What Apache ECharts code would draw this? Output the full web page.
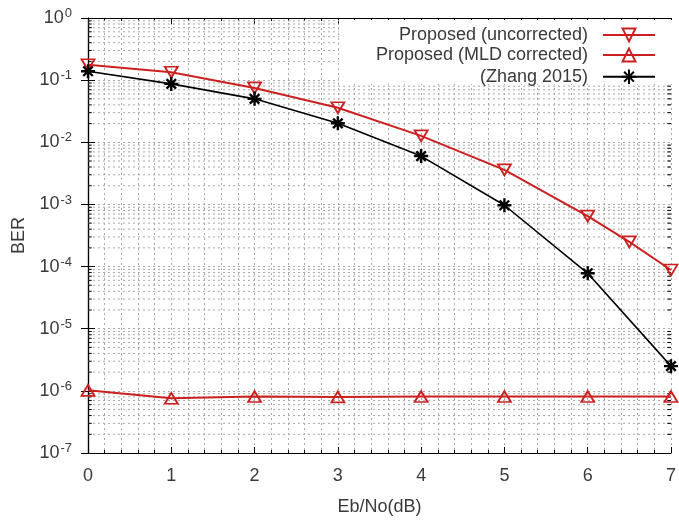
<!DOCTYPE html>
<html>
<head>
<meta charset="utf-8">
<script src="https://cdn.jsdelivr.net/npm/echarts@6/dist/echarts.min.js"></script>
<style>html,body{margin:0;padding:0;background:#fff}#c{width:679px;height:521px}</style>
</head>
<body>
<div id="c"></div>
<script>
// ---- data ----
const seriesNames = ['Proposed (uncorrected)', 'Proposed (MLD corrected)', '(Zhang 2015)'];
const xUncorr = [0, 1, 2, 3, 4, 5, 6, 6.5, 7];
const berUncorr = [0.177, 0.134, 0.075, 0.036, 0.0127, 0.0036, 6.5e-4, 2.5e-4, 8.8e-5];
const xMld = [0, 1, 2, 3, 4, 5, 6, 7];
const berMld = [1.02e-6, 7.6e-7, 8.1e-7, 8.0e-7, 8.1e-7, 8.1e-7, 8.1e-7, 8.1e-7];
const xZhang = [0, 1, 2, 3, 4, 5, 6, 7];
const berZhang = [0.139, 0.087, 0.050, 0.0202, 0.006, 9.7e-4, 7.8e-5, 2.5e-6];
const xTicks = [0, 1, 2, 3, 4, 5, 6, 7];
const yDecades = [-7, -6, -5, -4, -3, -2, -1, 0];
const minorMultipliers = [2, 3, 4, 5, 6, 7, 8, 9];

const RED = '#cc2020';
const GRIDC = '#a8a8a8';
const TXT = '#3a3a3a';
const FONT = '"Liberation Sans", Arial, sans-serif';

const zip = (xs, ys) => xs.map((x, i) => [x, ys[i]]);

// minor log grid values (drawn as broken line series through the axes)
const minorVals = [];
yDecades.slice(0, -1).forEach(d => minorMultipliers.forEach(m => minorVals.push(m * Math.pow(10, d))));
const xMin = xTicks[0], xMax = xTicks[xTicks.length - 1];
const minorGridData = [];
minorVals.forEach(v => { minorGridData.push([xMin, v], [xMax, v], [xMax, '-']); });
const minorTickLen = 0.045;
const minorTickData = [];
minorVals.forEach(v => {
  minorTickData.push([xMin, v], [xMin + minorTickLen, v], [xMin, '-']);
  minorTickData.push([xMax - minorTickLen, v], [xMax, v], [xMax, '-']);
});

const supFmt = v => '{b|10}{s|' + Math.round(Math.log10(v)) + '}';
const richLbl = {
  b: { fontSize: 18, fontFamily: FONT, color: TXT, lineHeight: 22 },
  s: { fontSize: 13, fontFamily: FONT, color: TXT, verticalAlign: 'top', lineHeight: 22, padding: [0, 0, 9, 1] }
};

const asterisk = 'path://M0,5L10,5M5,0L5,10M1.6,1.6L8.4,8.4M8.4,1.6L1.6,8.4';

const chart = echarts.init(document.getElementById('c'), null, { renderer: 'canvas' });
const legendCommon = {
  orient: 'vertical', align: 'right', itemWidth: 52, itemHeight: 16,
  textStyle: { fontSize: 18, fontFamily: FONT, color: TXT, padding: [0, 10, 0, 0] },
  selectedMode: false
};
chart.setOption({
  animation: false,
  backgroundColor: '#fff',
  grid: { left: 88, top: 18, right: 4, bottom: 65, containLabel: false },
  legend: [
    Object.assign({}, legendCommon, { top: 20, right: 7, padding: [6, 16, 40, 60], backgroundColor: '#fff', z: 6, data: [seriesNames[0]] }),
    Object.assign({}, legendCommon, { top: 41, right: 18, z: 7, data: [seriesNames[1]] }),
    Object.assign({}, legendCommon, { top: 62, right: 18, z: 7, itemHeight: 18, data: [seriesNames[2]] })
  ],
  xAxis: [{
    type: 'value', min: xMin, max: xMax, interval: 1, position: 'bottom',
    name: 'Eb/No(dB)', nameLocation: 'middle', nameGap: 45,
    nameTextStyle: { fontSize: 18, fontFamily: FONT, color: TXT },
    axisLine: { show: true, lineStyle: { color: '#000', width: 1.2 } },
    axisTick: { show: true, inside: true, length: 6, lineStyle: { color: '#000' } },
    minorTick: { show: true, splitNumber: 5, length: 3, lineStyle: { color: '#000' } },
    axisLabel: { fontSize: 18, fontFamily: FONT, color: TXT, margin: 14 },
    splitLine: { show: true, lineStyle: { color: GRIDC, type: [2, 3], width: 1 } },
    minorSplitLine: { show: true, lineStyle: { color: GRIDC, type: [2, 3], width: 1 } }
  }, {
    type: 'value', min: xMin, max: xMax, interval: 1, position: 'top',
    axisLine: { show: true, lineStyle: { color: '#000', width: 1.2 } },
    axisTick: { show: true, inside: true, length: 6, lineStyle: { color: '#000' } },
    minorTick: { show: true, splitNumber: 5, length: 3, lineStyle: { color: '#000' } },
    axisLabel: { show: false }, splitLine: { show: false }
  }],
  yAxis: [{
    type: 'log', logBase: 10, min: Math.pow(10, yDecades[0]), max: Math.pow(10, yDecades[yDecades.length - 1]),
    interval: 1, position: 'left',
    name: 'BER', nameLocation: 'middle', nameGap: 59, nameRotate: 90,
    nameTextStyle: { fontSize: 18, fontFamily: FONT, color: TXT },
    axisLine: { show: true, lineStyle: { color: '#000', width: 1.2 } },
    axisTick: { show: true, inside: true, length: 7, lineStyle: { color: '#000' } },
    axisLabel: { formatter: supFmt, rich: richLbl, margin: 16 },
    splitLine: { show: true, lineStyle: { color: GRIDC, type: [2, 3], width: 1 } }
  }, {
    type: 'log', logBase: 10, min: Math.pow(10, yDecades[0]), max: Math.pow(10, yDecades[yDecades.length - 1]),
    interval: 1, position: 'right',
    axisLine: { show: true, lineStyle: { color: '#000', width: 1.2 } },
    axisTick: { show: true, inside: true, length: 7, lineStyle: { color: '#000' } },
    axisLabel: { show: false }, splitLine: { show: false }
  }],
  series: [
    {
      name: 'minor-grid', type: 'line', data: minorGridData, silent: true, z: 1,
      symbol: 'none', connectNulls: false,
      lineStyle: { color: GRIDC, type: [2, 3], width: 1 }
    },
    {
      name: 'minor-ticks', type: 'line', data: minorTickData, silent: true, z: 1,
      symbol: 'none', connectNulls: false,
      lineStyle: { color: '#000', type: 'solid', width: 1 }
    },
    {
      name: seriesNames[0], type: 'line', data: zip(xUncorr, berUncorr),
      symbol: 'triangle', symbolRotate: 180, symbolSize: [13, 11], showAllSymbol: true,
      lineStyle: { color: RED, width: 2 },
      itemStyle: { color: 'rgba(255,255,255,0)', borderColor: RED, borderWidth: 1.8 },
      z: 4
    },
    {
      name: seriesNames[1], type: 'line', data: zip(xMld, berMld),
      symbol: 'triangle', symbolSize: [13, 11], showAllSymbol: true,
      lineStyle: { color: RED, width: 2 },
      itemStyle: { color: 'rgba(255,255,255,0)', borderColor: RED, borderWidth: 1.8 },
      z: 4
    },
    {
      name: seriesNames[2], type: 'line', data: zip(xZhang, berZhang),
      symbol: asterisk, symbolSize: 14, showAllSymbol: true,
      lineStyle: { color: '#000', width: 1.6 },
      itemStyle: { color: 'none', borderColor: '#000', borderWidth: 2.4 },
      z: 5
    }
  ]
});
</script>
</body>
</html>
